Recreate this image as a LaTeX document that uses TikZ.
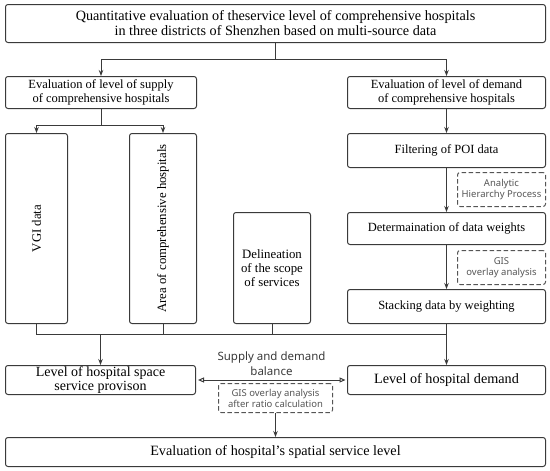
\documentclass[tikz,border=0pt]{standalone}
\usepackage{fontspec}
\setmainfont{Liberation Serif}
\newfontfamily\notefont{Noto Sans}
\usepackage{xcolor}
\usepackage{tikz}
\usetikzlibrary{arrows.meta}
\definecolor{lineGray}{HTML}{3A3A3A}
\definecolor{noteGray}{HTML}{555555}
\tikzset{
	flowbox/.style = {draw = lineGray, line width = 1pt, rounded corners = 2.5pt, inner sep = 0pt, anchor = north west, align = center, font = \fontsize{12.5}{14}\selectfont},
	notebox/.style = {draw = noteGray, line width = 1pt, dashed, dash pattern = on 4.5pt off 2.5pt, rounded corners = 2.5pt, inner sep = 0pt, anchor = north west, align = center, text = noteGray, font = \notefont\fontsize{9.5}{11.5}\selectfont},
	link/.style = {draw = lineGray, line width = 1pt},
	arr/.style = {link, -{Stealth[length = 6pt, width = 4.5pt]}},
	balarr/.style = {link, {Triangle[open, length = 6pt, width = 5pt]}-{Triangle[open, length = 6pt, width = 5pt]}}
}
\newcommand{\flowNode}[6]{
	\node[flowbox, minimum width = #4, minimum height = #5] (#1) at (#2, #3) {#6};
}

\begin{document}
\begin{tikzpicture}[x = 1pt, y = -1pt]%

		\useasboundingbox (0, 0) rectangle (550, 471);

		% top
		\node[flowbox, minimum width = 540pt, minimum height = 38pt, font = \fontsize{14.2}{15}\selectfont] (title) at (5, 4) {Quantitative evaluation of theservice level of comprehensive hospitals\\in three districts of Shenzhen based on multi-source data};

		% supply side
		\flowNode{supply}{5}{76}{191pt}{32pt}{Evaluation of level of supply\\of comprehensive hospitals}
		\node[flowbox, minimum width = 62pt, minimum height = 190pt] (vgi) at (5, 133) {};
		\node[rotate = 90, font = \fontsize{12.8}{14}\selectfont] at (vgi.center) {VGI data};
		\node[flowbox, minimum width = 67pt, minimum height = 190pt] (area) at (129, 133) {};
		\node[rotate = 90, font = \fontsize{12.8}{14}\selectfont] at (area.center) {Area of comprehensive hospitals};
		\flowNode{deli}{233}{212}{77pt}{111pt}{\fontsize{12.8}{12.5}\selectfont Delineation\\\fontsize{12.8}{12.5}\selectfont of the scope\\\fontsize{12.8}{12.5}\selectfont of services}

		% demand side
		\flowNode{demand}{347}{76}{198pt}{32pt}{Evaluation of level of demand\\of comprehensive hospitals}
		\flowNode{filter}{347}{133}{198pt}{34pt}{Filtering of POI data}
		\flowNode{weight}{347}{212}{198pt}{32pt}{Determaination of data weights}
		\flowNode{stack}{347}{289}{198pt}{34pt}{Stacking data by weighting}
		\node[notebox, minimum width = 88pt, minimum height = 34pt] (ahp) at (457, 172) {Analytic\\Hierarchy Process};
		\node[notebox, minimum width = 88pt, minimum height = 34pt] (gis) at (457, 250) {GIS\\overlay analysis};

		% levels
		\flowNode{space}{5}{365}{190pt}{29pt}{\fontsize{14}{13}\selectfont Level of hospital space\\\fontsize{14}{13}\selectfont service provison}
		\flowNode{level}{347}{365}{198pt}{29pt}{\fontsize{14.2}{15}\selectfont Level of hospital demand}
		\node[notebox, minimum width = 114pt, minimum height = 29pt, font = \notefont\fontsize{9.5}{11}\selectfont] (ratio) at (218, 383) {GIS overlay analysis\\after ratio calculation};
		\flowNode{final}{5}{437}{540pt}{29pt}{\fontsize{14.2}{15}\selectfont Evaluation of hospital's spatial service level}

		% connectors
		\coordinate (j1) at (title.south |- 0, 59);
		\draw[link] (title.south) -- (j1);
		\draw[arr] (j1) -| (supply.north);
		\draw[arr] (j1) -| (demand.north);

		\coordinate (j2) at (supply.south |- 0, 125);
		\draw[link] (supply.south) -- (j2);
		\draw[arr] (j2) -| (vgi.north);
		\draw[arr] (j2) -| (area.north);

		\draw[arr] (demand.south) -- (filter.north);
		\draw[arr] (filter.south) -- (weight.north);
		\draw[arr] (weight.south) -- (stack.north);

		\coordinate (j3) at (stack.south |- 0, 334);
		\draw[link] (vgi.south) |- (j3);
		\draw[link] (area.south) -- (area.south |- j3);
		\draw[link] (deli.south) -- (deli.south |- j3);
		\draw[arr] (space.north |- j3) -- (space.north);
		\draw[arr] (stack.south) -- (level.north);

		\draw[balarr, shorten <= 2pt, shorten >= 1.5pt] (space.east) -- node[above = 1pt, text = lineGray, font = \notefont\fontsize{11.5}{15}\selectfont, align = center] {Supply and demand\\balance} (level.west);
		\draw[arr] (ratio.south) -- (final.north);

	\end{tikzpicture}
\end{document}
